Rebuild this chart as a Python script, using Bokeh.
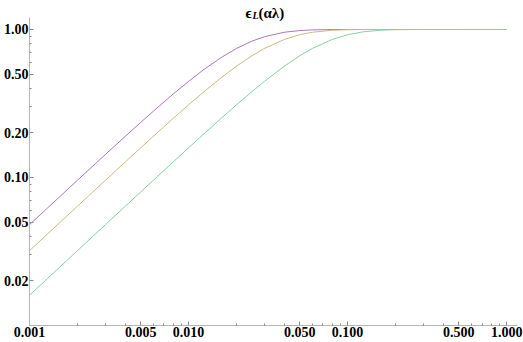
from bokeh.plotting import figure
from bokeh.models import FixedTicker, PrintfTickFormatter, Label, Range1d
from bokeh.embed import file_html
from bokeh.resources import INLINE

# ---- data (log-log, three curves) ----
x_vals = [0.001, 0.0013, 0.0016, 0.002, 0.0025, 0.003, 0.004, 0.005, 0.006, 0.008,
          0.01, 0.0125, 0.016, 0.02, 0.025, 0.03, 0.04, 0.05, 0.06, 0.08,
          0.1, 0.125, 0.16, 0.2, 0.3, 0.5, 1.0]
eps_purple = [0.0480, 0.0623, 0.0766, 0.0957, 0.1194, 0.1430, 0.1897, 0.2355, 0.2803, 0.3662,
              0.4462, 0.5370, 0.6458, 0.7443, 0.8337, 0.8937, 0.9580, 0.9837, 0.9937, 0.9991,
              0.9999, 1.0, 1.0, 1.0, 1.0, 1.0, 1.0]
eps_yellow = [0.0320, 0.0416, 0.0512, 0.0639, 0.0798, 0.0957, 0.1273, 0.1586, 0.1897, 0.2505,
              0.3095, 0.3799, 0.4715, 0.5649, 0.6640, 0.7443, 0.8565, 0.9217, 0.9580, 0.9881,
              0.9967, 0.9993, 0.9999, 1.0, 1.0, 1.0, 1.0]
eps_green = [0.0160, 0.0208, 0.0256, 0.0320, 0.0400, 0.0480, 0.0639, 0.0798, 0.0957, 0.1273,
             0.1586, 0.1974, 0.2505, 0.3095, 0.3799, 0.4462, 0.5649, 0.6640, 0.7443, 0.8565,
             0.9217, 0.9640, 0.9881, 0.9967, 0.9999, 1.0, 1.0]

series = [eps_purple, eps_yellow, eps_green]
colors = ["#ad78b9", "#cbba84", "#88d0a2"]

x_major = [0.001, 0.005, 0.01, 0.05, 0.1, 0.5, 1.0]
x_minor = [m * d for d in (0.001, 0.01, 0.1) for m in (2, 3, 4, 6, 7, 8, 9)]
y_major = [0.02, 0.05, 0.1, 0.2, 0.5, 1.0]
y_minor = [m * d for d in (0.01, 0.1) for m in (3, 4, 6, 7, 8, 9)]

x_range = (0.001, 1.17)
y_range = (0.01, 1.57)
y_axis_extent = (0.01, 1.205)

SERIF = "Liberation Serif"

p = figure(width=523, height=342, x_axis_type="log", y_axis_type="log",
           x_range=Range1d(*x_range), y_range=Range1d(*y_range),
           output_backend="svg", toolbar_location=None,
           min_border_left=26, min_border_right=6, min_border_top=0, min_border_bottom=17)
p.outline_line_color = None
p.xgrid.visible = False
p.ygrid.visible = False
p.background_fill_color = "white"
p.border_fill_color = "white"

for ys, c in zip(series, colors):
    p.line(x_vals, ys, line_color=c, line_width=1)

p.xaxis.ticker = FixedTicker(ticks=x_major, minor_ticks=x_minor)
p.yaxis.ticker = FixedTicker(ticks=y_major, minor_ticks=y_minor)
p.xaxis.formatter = PrintfTickFormatter(format="%.3f")
p.yaxis.formatter = PrintfTickFormatter(format="%.2f")
p.yaxis.bounds = y_axis_extent

for ax in (p.xaxis[0], p.yaxis[0]):
    ax.axis_line_color = "#b5b5b5"
    ax.major_tick_line_color = "#8a8a8a"
    ax.minor_tick_line_color = "#8a8a8a"
    ax.major_tick_in = 4
    ax.major_tick_out = 0
    ax.minor_tick_in = 2
    ax.minor_tick_out = 0
    ax.axis_label_standoff = 0
    ax.major_label_text_font = SERIF
    ax.major_label_text_font_style = "bold"
    ax.major_label_text_font_size = "14px"
    ax.major_label_text_color = "black"
p.xaxis.major_label_standoff = 1
p.yaxis.major_label_standoff = 1

# title pieces: ϵ_L(αλ)   (screen px relative to the frame's bottom-left)
frame_h = 342 - 17
title_parts = [
    ("\u03f5", 216, frame_h - 12, "bold", "15px"),
    ("L", 223, frame_h - 15, "bold italic", "10px"),
    ("(\u03b1\u03bb)", 229, frame_h - 12, "bold", "15px"),
]
for txt, tx, ty, style, size in title_parts:
    p.add_layout(Label(x=tx, y=ty, x_units="screen", y_units="screen", text=txt,
                       text_font=SERIF, text_font_style=style,
                       text_font_size=size, text_baseline="alphabetic",
                       text_align="left", text_color="black"))

open("out.html", "w").write(file_html(p, INLINE))
